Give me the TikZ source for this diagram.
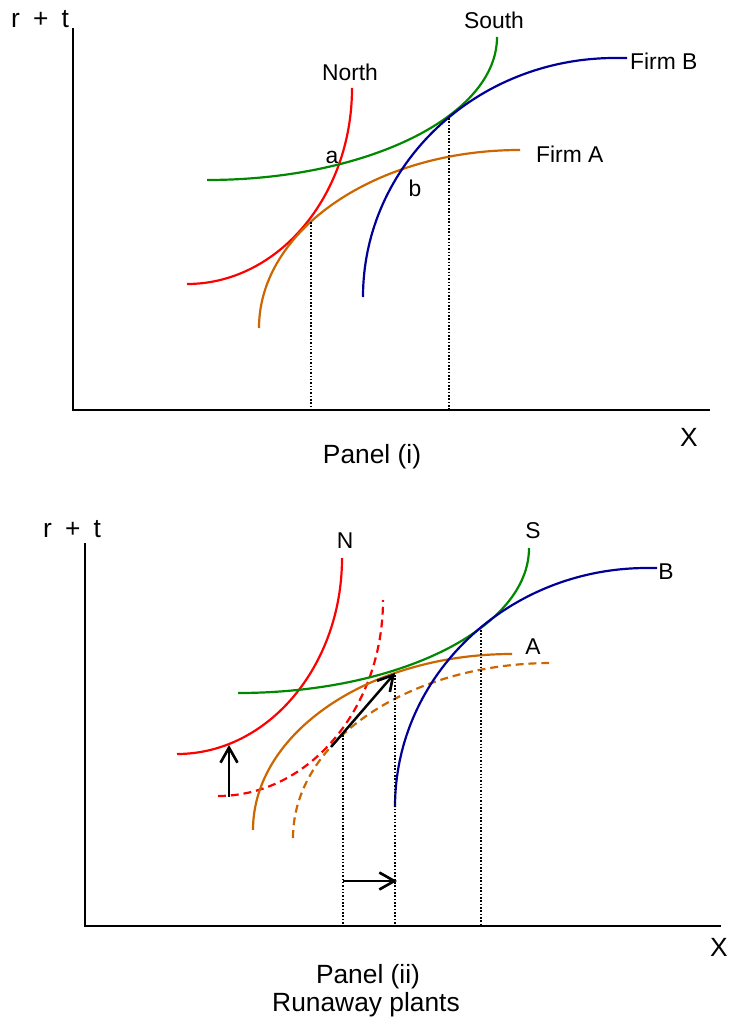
\documentclass[tikz,border=0pt]{standalone}
\usepackage{fontspec}
\setmainfont{Liberation Sans}
\usetikzlibrary{arrows.meta}
\definecolor{northred}{RGB}{255,0,0}
\definecolor{southgreen}{RGB}{0,136,0}
\definecolor{firmblue}{RGB}{0,0,153}
\definecolor{firmorange}{RGB}{204,102,0}

\begin{document}
\begin{tikzpicture}[x=0.02cm, y=-0.02cm,
    axis/.style={line width=1.4pt},
    curve/.style={line width=1.25pt},
    moved/.style={dash pattern=on 4.5pt off 2.8pt},
    guide/.style={densely dotted, line width=0.9pt},
    shift arrow/.style={-{Straight Barb[length=3mm, width=3.4mm, line width=1.5pt]}, line width=1.4pt},
    lbl/.style={font=\fontsize{13}{15}\selectfont, inner sep=1pt},
    title/.style={font=\fontsize{15}{18}\selectfont, inner sep=1pt}]
    \useasboundingbox (0,0) rectangle (729,1023);

    % ---------------- Panel (i) ----------------
    % Axes
    \draw[axis] (73,28) -- (73,410) -- (710,410);
    \node[title] (rt1) at (40,19) {r\enspace+\enspace t};
    \node[title] (x1) at (689,437) {X};
    \node[title] (cap1) at (372,457) {Panel (i)};

    % Curves
    \draw[curve, northred] (187,284) .. controls (278,284) and (352,196) .. (352,88);
    \draw[curve, firmorange] (259,328) .. controls (259,230) and (376,150) .. (520,150);
    \draw[curve, southgreen] (207,180) .. controls (367,180) and (497,116) .. (497,37);
    \draw[curve, firmblue] (363,297) .. controls (363,165) and (476,58) .. (615,58) -- (627,58);

    % Curve labels
    \node[lbl] (north) at (350,72) {North};
    \node[lbl] (south) at (494,20) {South};
    \node[lbl, anchor=west] (firmb) at (628,61) {Firm B};
    \node[lbl, anchor=west] (firma) at (534,154) {Firm A};
    \node[lbl] (pa) at (332,157) {a};
    \node[lbl] (pb) at (415,188) {b};

    % Tangency points and guides
    \coordinate (ta1) at (311,222);
    \coordinate (tb1) at (449,118);
    \draw[guide] (ta1) -- (ta1 |- 0,410);
    \draw[guide] (tb1) -- (tb1 |- 0,410);

    % ---------------- Panel (ii) ----------------
    % Axes
    \draw[axis] (85,543) -- (85,926) -- (721,926);
    \node[title] (rt2) at (72,529) {r\enspace+\enspace t};
    \node[title] (x2) at (719,947) {X};
    \node[title] (cap2) at (368,977) {Panel (ii)};
    \node[title] (cap3) at (366,1005) {Runaway plants};

    % Curves
    \draw[curve, northred] (177,754) .. controls (268,754) and (342,666) .. (342,558);
    \draw[curve, northred, moved] (218,796) .. controls (309,796) and (383,708) .. (383,600);
    \draw[curve, firmorange] (253,830) .. controls (253,733) and (369,654) .. (512,654);
    \draw[curve, firmorange, moved] (293,838) .. controls (293,741) and (409,663) .. (552,663);
    \draw[curve, southgreen] (238,693) .. controls (399,693) and (529,628) .. (529,548);
    \draw[curve, firmblue] (395,807) .. controls (395,675) and (508,568) .. (647,568) -- (657,568);

    % Curve labels
    \node[lbl] (n) at (345,541) {N};
    \node[lbl] (s) at (533,531) {S};
    \node[lbl] (b) at (666,572) {B};
    \node[lbl] (a) at (533,647) {A};

    % Shifts
    \coordinate (up0) at (229,797);
    \coordinate (up1) at (229,745);
    \coordinate (dg0) at (331,747);
    \coordinate (dg1) at (395,673);
    \coordinate (rt0) at (343,881);
    \coordinate (rt1e) at (397,881);
    \draw[shift arrow] (up0) -- (up1);
    \draw[shift arrow] (dg0) -- (dg1);
    \draw[shift arrow] (rt0) -- (rt1e);

    % Guides
    \coordinate (g1) at (343,735);
    \coordinate (g2) at (395,675);
    \coordinate (g3) at (481,630);
    \foreach \g in {g1, g2, g3}
        \draw[guide] (\g) -- (\g |- 0,926);
\end{tikzpicture}
\end{document}
